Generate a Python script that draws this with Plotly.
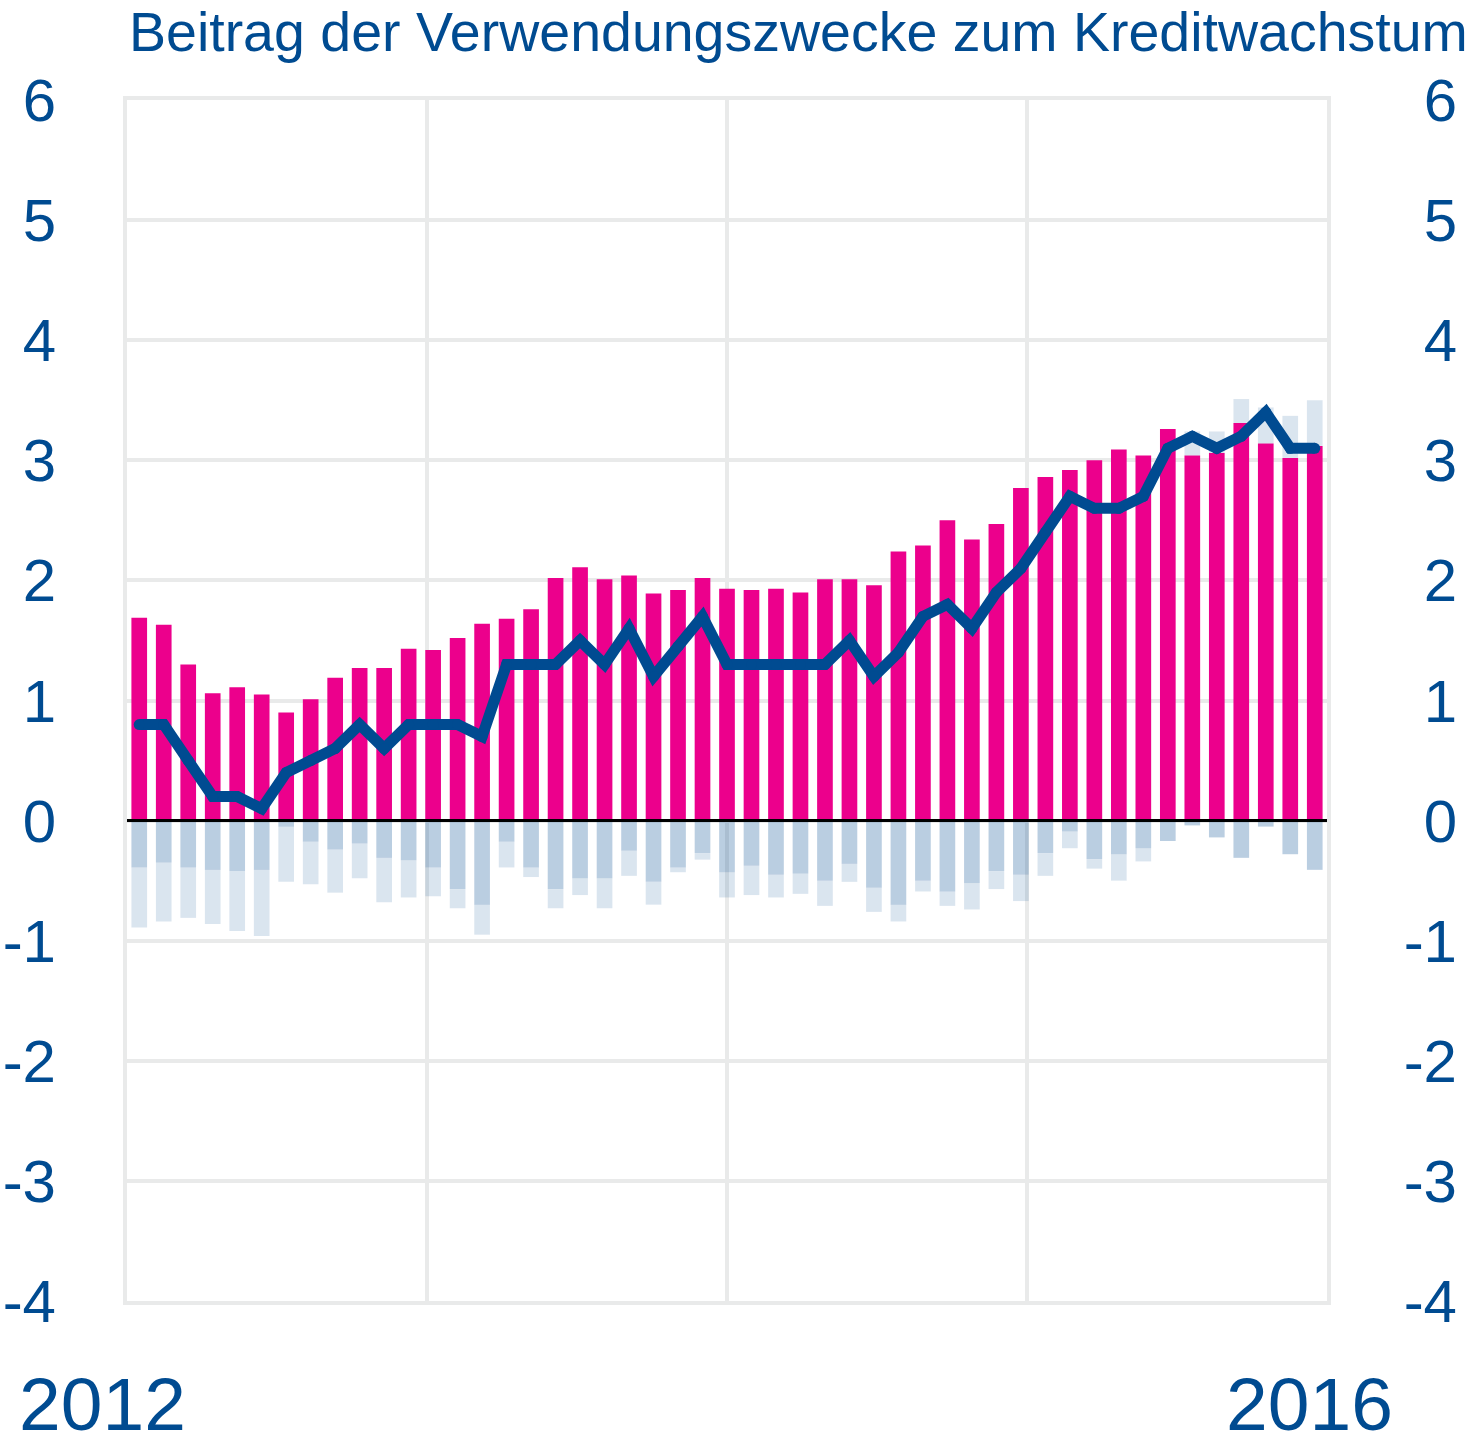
import plotly.graph_objects as go

# ---- data (monthly, Jan 2012 .. Jan 2016) ----
months = list(range(49))

wohnungsbau = [1.69, 1.63, 1.30, 1.06, 1.11, 1.05, 0.90, 1.01, 1.19, 1.27,
               1.27, 1.43, 1.42, 1.52, 1.64, 1.68, 1.76, 2.02, 2.11, 2.01,
               2.04, 1.89, 1.92, 2.02, 1.93, 1.92, 1.93, 1.90, 2.01, 2.01,
               1.96, 2.24, 2.29, 2.50, 2.34, 2.47, 2.77, 2.86, 2.92, 3.00,
               3.09, 3.04, 3.26, 3.04, 3.06, 3.31, 3.14, 3.02, 3.12]

konsum = [-0.39, -0.35, -0.39, -0.41, -0.42, -0.41, -0.05, -0.175, -0.24, -0.19,
          -0.31, -0.33, -0.39, -0.57, -0.70, -0.175, -0.39, -0.57, -0.48, -0.48,
          -0.25, -0.51, -0.39, -0.27, -0.43, -0.375, -0.45, -0.44, -0.50, -0.36,
          -0.56, -0.70, -0.50, -0.59, -0.52, -0.42, -0.45, -0.27, -0.09, -0.32,
          -0.28, -0.23, -0.17, -0.04, -0.14, -0.31, -0.05, -0.28, -0.41]

sonstige = [-0.50, -0.49, -0.42, -0.45, -0.50, -0.55, -0.46, -0.355, -0.36, -0.29,
            -0.37, -0.31, -0.24, -0.16, -0.25, -0.215, -0.08, -0.16, -0.14, -0.25,
            -0.21, -0.19, -0.04, -0.055, -0.21, -0.245, -0.19, -0.17, -0.21, -0.15,
            -0.20, -0.14, -0.09, -0.12, -0.22, -0.15, -0.22, -0.19, -0.14, -0.08,
            -0.22, -0.11, 0.0, 0.20, 0.18, 0.20, 0.30, 0.35, 0.38]

insgesamt = [0.8, 0.8, 0.5, 0.2, 0.2, 0.1, 0.4, 0.5, 0.6, 0.8,
             0.6, 0.8, 0.8, 0.8, 0.7, 1.3, 1.3, 1.3, 1.5, 1.3,
             1.6, 1.2, 1.45, 1.7, 1.3, 1.3, 1.3, 1.3, 1.3, 1.5,
             1.2, 1.4, 1.7, 1.8, 1.6, 1.9, 2.1, 2.4, 2.7, 2.6,
             2.6, 2.7, 3.1, 3.2, 3.1, 3.2, 3.4, 3.1, 3.1]

y_ticks = [6, 5, 4, 3, 2, 1, 0, -1, -2, -3, -4]
x_grid = [-0.5, 11.75, 24.0, 36.25, 48.5]
title_text = "Beitrag der Verwendungszwecke zum Kreditwachstum"
year_labels = ["2012", "2016"]

# ---- styles ----
BLUE = "#004B91"
MAGENTA = "#EC008C"
MED = "rgba(0,75,145,0.27)"
LIGHT = "rgba(0,75,145,0.145)"
GRID = "#E9EAEA"
FONT = "Liberation Sans, Arial, sans-serif"
TICK_SIZE = 60

W, H = 1478, 1447
ML, MR, MT = 127, 21, 100
PLOT_W, PLOT_H = 1200, 1201
MB = H - MT - PLOT_H
PW = W - ML - MR
PH = PLOT_H
dom_end = PLOT_W / PW


def px_x(px):
    return (px - ML) / PW


def px_y(py):
    return (MT + PH - py) / PH


fig = go.Figure()
fig.add_trace(go.Bar(x=months, y=wohnungsbau, marker=dict(color=MAGENTA, line=dict(width=0)),
                     name="Wohnungsbau"))
fig.add_trace(go.Bar(x=months, y=konsum, marker=dict(color=MED, line=dict(width=0)),
                     name="Konsum"))
fig.add_trace(go.Bar(x=months, y=sonstige, marker=dict(color=LIGHT, line=dict(width=0)),
                     name="Sonstige"))
fig.add_trace(go.Scatter(x=months, y=insgesamt, mode="lines+markers",
                         line=dict(color=BLUE, width=11),
                         marker=dict(color=BLUE, size=11, line=dict(width=0)),
                         name="Insgesamt"))
# invisible trace to activate the right-hand axis
fig.add_trace(go.Scatter(x=[months[0]], y=[0], yaxis="y2", mode="markers",
                         marker=dict(opacity=0), showlegend=False, hoverinfo="skip"))

fig.update_layout(
    width=W, height=H,
    margin=dict(l=ML, r=MR, t=MT, b=MB, autoexpand=False),
    paper_bgcolor="white", plot_bgcolor="white",
    barmode="relative", bargap=0.36,
    showlegend=False,
    font=dict(family=FONT, color=BLUE),
    xaxis=dict(domain=[0, dom_end], range=[-0.5, 48.5], tickmode="array",
               tickvals=x_grid, showticklabels=False, showgrid=True,
               gridcolor=GRID, gridwidth=4, zeroline=False,
               showline=True, mirror=True, linecolor=GRID, linewidth=4,
               ticks="", automargin=False),
    yaxis=dict(range=[-4, 6], tickmode="array", tickvals=y_ticks,
               ticktext=[str(v) for v in y_ticks],
               showgrid=True, gridcolor=GRID, gridwidth=4, zeroline=False,
               showline=True, mirror=True, linecolor=GRID, linewidth=4,
               ticks="", tickfont=dict(size=TICK_SIZE, color=BLUE),
               ticklabelstandoff=55, automargin=False),
    yaxis2=dict(range=[-4, 6], overlaying="y", anchor="free", position=1.0,
                side="left", tickmode="array", tickvals=y_ticks,
                ticktext=[str(v) for v in y_ticks],
                showgrid=False, zeroline=False, showline=False, ticks="",
                tickfont=dict(size=TICK_SIZE, color=BLUE), ticklabelstandoff=0,
                automargin=False),
)

# zero line above the bars
fig.add_shape(type="line", xref="x domain", yref="y", x0=0, x1=1, y0=0, y1=0,
              line=dict(color="black", width=3), layer="above")

fig.add_annotation(text=title_text, xref="paper", yref="paper", x=0,
                   y=px_y(32), xanchor="left", yanchor="middle", showarrow=False,
                   font=dict(size=55.5, color=BLUE, family=FONT))
fig.add_annotation(text=year_labels[0], xref="paper", yref="paper",
                   x=px_x(102.5), y=px_y(1404),
                   xanchor="center", yanchor="middle", showarrow=False,
                   font=dict(size=75, color=BLUE, family=FONT))
fig.add_annotation(text=year_labels[1], xref="paper", yref="paper",
                   x=px_x(1309), y=px_y(1404),
                   xanchor="center", yanchor="middle", showarrow=False,
                   font=dict(size=75, color=BLUE, family=FONT))

fig.write_html("out.html", config={"displayModeBar": False},
               post_script="document.body.style.margin='0';document.body.style.padding='0';")
